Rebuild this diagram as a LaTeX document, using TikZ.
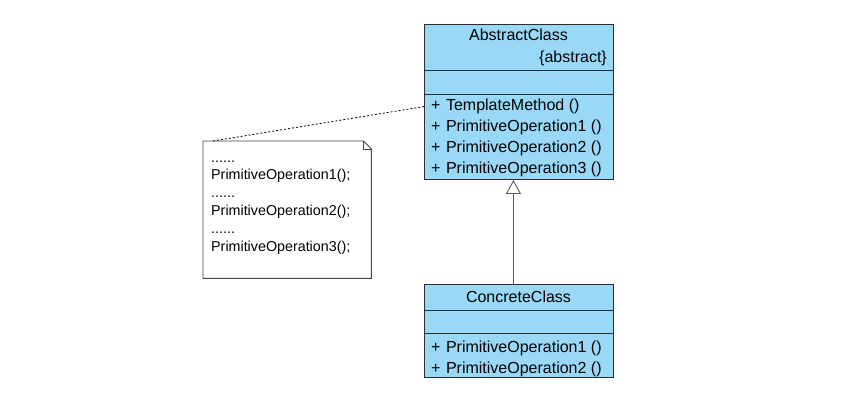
\documentclass[tikz,border=0pt]{standalone}
\usepackage{fontspec}
\setmainfont{Liberation Sans}
\usetikzlibrary{arrows.meta,calc}
\definecolor{umlfill}{RGB}{153,217,247}
\definecolor{umlline}{RGB}{45,45,45}
\definecolor{noteline}{RGB}{70,70,70}
\definecolor{linkline}{RGB}{90,90,90}
\begin{document}
\begin{tikzpicture}[x=1pt,y=-1pt,
  classbox/.style={draw=umlline, fill=umlfill, line width=0.9pt, minimum width=189pt,
                   inner sep=0pt, anchor=north west},
  divider/.style={draw=umlline, line width=0.9pt},
  member/.style={anchor=base west, inner sep=0pt, font=\fontsize{16}{16}\selectfont},
  classname/.style={anchor=base, inner sep=0pt, font=\fontsize{16}{16}\selectfont},
  notetext/.style={anchor=base west, inner sep=0pt, font=\fontsize{14.3}{14.3}\selectfont},
  notebox/.style={inner sep=0pt, minimum width=168pt, minimum height=137pt, anchor=north west},
  noteframe/.style={draw=noteline, line width=0.9pt, fill=white},
  generalization/.style={draw=linkline, line width=0.9pt,
                         -{Triangle[open, width=15pt, length=14pt, fill=white]}},
  notelink/.style={draw=black, line width=0.8pt, dash pattern=on 2pt off 2pt}
]
\useasboundingbox[fill=white] (0,0) rectangle (854,415);

% AbstractClass
\node[classbox, minimum height=155pt] (abs) at (424,24) {};
\draw[divider] (424,70) -- (613,70);
\draw[divider] (424,94) -- (613,94);
\node[classname] (absname) at (518.5,40.7) {AbstractClass};
\node[anchor=base east, inner sep=0pt, font=\fontsize{16}{16}\selectfont] (absstereo) at (607,62) {\{abstract\}};
\node[member] (tm)  at (431,110.7) {+\hspace{5.5pt}TemplateMethod ()};
\node[member] (ap1) at (431,131.7) {+\hspace{5.5pt}PrimitiveOperation1 ()};
\node[member] (ap2) at (431,152.7) {+\hspace{5.5pt}PrimitiveOperation2 ()};
\node[member] (ap3) at (431,173.7) {+\hspace{5.5pt}PrimitiveOperation3 ()};

% ConcreteClass
\node[classbox, minimum height=93pt] (conc) at (424,284) {};
\draw[divider] (424,310) -- (613,310);
\draw[divider] (424,333) -- (613,333);
\node[classname] (concname) at (518.5,302.5) {ConcreteClass};
\node[member] (cp1) at (431,352.4) {+\hspace{5.5pt}PrimitiveOperation1 ()};
\node[member] (cp2) at (431,373.4) {+\hspace{5.5pt}PrimitiveOperation2 ()};

% generalization
\draw[generalization] ($(conc.north)+(-5.5,0)$) -- ($(abs.south)+(-5.5,0)$);

% note with folded corner
\node[notebox] (note) at (203,141) {};
\draw[noteframe] (note.north west) -- ($(note.north east)+(-8,0)$) -- ($(note.north east)+(0,8)$)
  -- (note.south east) -- (note.south west) -- cycle;
\draw[noteframe, fill=none] ($(note.north east)+(-8,0)$) -- ($(note.north east)+(-8,8)$) -- ($(note.north east)+(0,8)$);
\node[notetext] (n1) at (211,162) {......};
\node[notetext] (n2) at (211,179.8) {PrimitiveOperation1();};
\node[notetext] (n3) at (211,197.6) {......};
\node[notetext] (n4) at (211,215.4) {PrimitiveOperation2();};
\node[notetext] (n5) at (211,233.2) {......};
\node[notetext] (n6) at (211,251) {PrimitiveOperation3();};

% note anchor line
\coordinate (noteend) at ($(note.north west)+(10,0)$);
\draw[notelink] (noteend) -- (abs.west |- tm.west);
\end{tikzpicture}
\end{document}
